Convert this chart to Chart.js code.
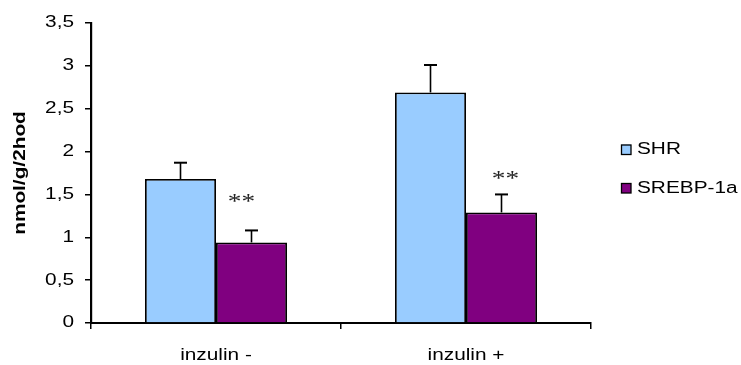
<!DOCTYPE html>
<html>
<head>
<meta charset="utf-8">
<script src="https://cdn.jsdelivr.net/npm/chart.js@4/dist/chart.umd.min.js"></script>
<style>
  html, body { margin: 0; padding: 0; background: #fff; }
  #wrap { width: 741px; height: 365px; position: relative; }
</style>
</head>
<body>
<div id="wrap"><canvas id="c"></canvas></div>
<script>
// Categories and series
const categories = ['inzulin -', 'inzulin +'];
const seriesNames = ['SHR', 'SREBP-1a'];
const shrValues = [1.68, 2.69];
const shrErrors = [0.19, 0.32];
const srebpValues = [0.94, 1.29];
const srebpErrors = [0.14, 0.21];
const srebpMarks = ['**', '**'];
const yTitle = 'nmol/g/2hod';

const FONT = "'Liberation Sans', Arial, sans-serif";
const TEXT_STRETCH = 1.3;   // glyphs are widened along the text direction

// Widen every string drawn on the canvas (and report the widened width to layout)
function widenText(ctx, k) {
  const origFill = ctx.fillText;
  const origMeasure = ctx.measureText;
  ctx.fillText = function (text, x, y, maxWidth) {
    this.save();
    this.translate(x, y);
    this.scale(k, 1);
    if (maxWidth === undefined) origFill.call(this, text, 0, 0);
    else origFill.call(this, text, 0, 0, maxWidth / k);
    this.restore();
  };
  ctx.measureText = function (text) {
    const m = origMeasure.call(this, text);
    return {
      width: m.width * k,
      actualBoundingBoxAscent: m.actualBoundingBoxAscent,
      actualBoundingBoxDescent: m.actualBoundingBoxDescent,
      actualBoundingBoxLeft: m.actualBoundingBoxLeft * k,
      actualBoundingBoxRight: m.actualBoundingBoxRight * k
    };
  };
}

const widePlugin = {
  id: 'wideText',
  beforeInit(chart) { widenText(chart.ctx, TEXT_STRETCH); }
};

// Error bars: upward whisker with a flat cap
const errorBarPlugin = {
  id: 'errorBars',
  afterDatasetsDraw(chart) {
    const ctx = chart.ctx;
    const y = chart.scales.y;
    chart.data.datasets.forEach((ds, di) => {
      const meta = chart.getDatasetMeta(di);
      meta.data.forEach((bar, i) => {
        const top = y.getPixelForValue(ds.data[i] + ds.errors[i]);
        ctx.save();
        ctx.strokeStyle = '#000';
        ctx.lineWidth = 1.6;
        ctx.beginPath();
        ctx.moveTo(bar.x, bar.y);
        ctx.lineTo(bar.x, top);
        ctx.stroke();
        ctx.lineWidth = 2;
        ctx.beginPath();
        ctx.moveTo(bar.x - 6.5, top);
        ctx.lineTo(bar.x + 6.5, top);
        ctx.stroke();
        ctx.restore();
      });
    });
  }
};

// Significance marks above the SREBP-1a bars
const marksPlugin = {
  id: 'sigMarks',
  afterDatasetsDraw(chart, args, opts) {
    const ctx = chart.ctx;
    const y = chart.scales.y;
    const ds = chart.data.datasets[1];
    const meta = chart.getDatasetMeta(1);
    meta.data.forEach((bar, i) => {
      const top = y.getPixelForValue(ds.data[i] + ds.errors[i]);
      const off = opts.offsets[i];
      ctx.save();
      ctx.fillStyle = '#222';
      ctx.font = "21px 'Liberation Serif', 'Times New Roman', serif";
      ctx.textAlign = 'center';
      ctx.textBaseline = 'middle';
      ctx.fillText(srebpMarks[i], bar.x + off.dx, top + off.dy);
      ctx.restore();
    });
  }
};

// Legend: square swatches with labels, right of the plot
const legendPlugin = {
  id: 'sideLegend',
  afterDraw(chart, args, opts) {
    const ctx = chart.ctx;
    chart.data.datasets.forEach((ds, i) => {
      const cy = opts.rows[i];
      ctx.save();
      ctx.fillStyle = ds.backgroundColor;
      ctx.fillRect(opts.x, cy - 5, 10, 10);
      ctx.strokeStyle = '#000';
      ctx.lineWidth = 1.3;
      ctx.strokeRect(opts.x + 0.5, cy - 4.5, 9.5, 9.5);
      ctx.fillStyle = '#000';
      ctx.font = '16px ' + FONT;
      ctx.textAlign = 'left';
      ctx.textBaseline = 'middle';
      ctx.fillText(ds.label, opts.x + 16, cy + 0.5);
      ctx.restore();
    });
  }
};

new Chart(document.getElementById('c'), {
  type: 'bar',
  data: {
    labels: categories,
    datasets: [
      {
        label: seriesNames[0],
        data: shrValues,
        errors: shrErrors,
        backgroundColor: '#99CCFF',
        borderColor: '#000',
        borderWidth: 1.8
      },
      {
        label: seriesNames[1],
        data: srebpValues,
        errors: srebpErrors,
        backgroundColor: '#800080',
        borderColor: '#000',
        borderWidth: 1.8
      }
    ]
  },
  options: {
    responsive: true,
    maintainAspectRatio: false,
    animation: false,
    events: [],
    layout: { padding: { left: 0, top: 23, right: 150, bottom: 0 } },
    datasets: { bar: { categoryPercentage: 0.568, barPercentage: 1.0 } },
    plugins: {
      legend: { display: false },
      tooltip: { enabled: false },
      sigMarks: { offsets: [{ dx: -10, dy: -28 }, { dx: 4, dy: -15 }] },
      sideLegend: { x: 621, rows: [149.5, 188] }
    },
    scales: {
      x: {
        afterFit(scale) { scale.height = 42; },
        grid: {
          offset: true,
          drawOnChartArea: false,
          drawTicks: true,
          tickLength: 6,
          color: '#000',
          lineWidth: 1.5
        },
        border: { display: true, color: '#000', width: 2 },
        ticks: {
          color: '#000',
          font: { family: FONT, size: 16 },
          padding: 17,
          maxRotation: 0
        }
      },
      y: {
        min: 0,
        max: 3.5,
        afterFit(scale) { scale.width = 91; },
        ticks: {
          stepSize: 0.5,
          color: '#000',
          font: { family: FONT, size: 16 },
          padding: 11,
          callback: (v) => String(v).replace('.', ',')
        },
        grid: {
          drawOnChartArea: false,
          drawTicks: true,
          tickLength: 6,
          color: '#000',
          lineWidth: 1.5
        },
        border: { display: true, color: '#000', width: 2.2 },
        title: {
          display: true,
          text: yTitle,
          color: '#000',
          font: { family: FONT, size: 16, weight: 'bold' },
          padding: { top: 11, bottom: 0 }
        }
      }
    }
  },
  plugins: [widePlugin, errorBarPlugin, marksPlugin, legendPlugin]
});
</script>
</body>
</html>
